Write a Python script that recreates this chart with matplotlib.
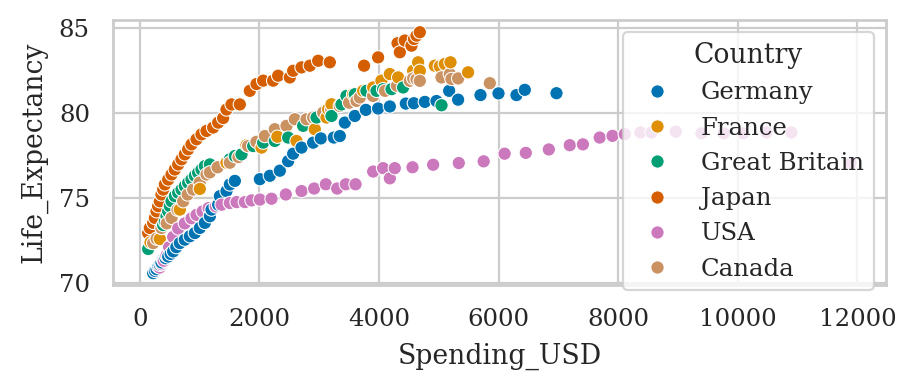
import matplotlib
matplotlib.use("Agg")
import matplotlib.pyplot as plt
import seaborn as sns
import pandas as pd

countries = ["Germany", "France", "Great Britain", "Japan", "USA", "Canada"]

germany_usd = [223, 252, 279, 307, 334, 362, 390, 430, 474, 515, 557, 610, 669, 752, 836,
               920, 1003, 1087, 1171, 1199, 1310, 1338, 1449, 1505, 1589, 2007, 2174, 2341,
               2480, 2564, 2704, 2898, 3027, 3244, 3344, 3428, 3595, 3779, 3985, 4181, 4448,
               4582, 4766, 4961, 5173, 5323, 5697, 5998, 6299, 6438, 6968]
germany_le = [70.57, 70.7, 70.8, 70.95, 71.06, 71.2, 71.36, 71.45, 71.55, 71.7, 71.85, 72.1,
              72.34, 72.54, 72.74, 72.93, 73.23, 73.53, 73.92, 74.31, 74.6, 75.1, 75.4, 75.79,
              76.0, 76.1, 76.3, 76.6, 77.16, 77.6, 77.96, 78.25, 78.5, 78.55, 78.64, 79.43,
              79.82, 80.18, 80.26, 80.38, 80.55, 80.57, 80.65, 80.7, 81.3, 80.78, 81.05, 81.15,
              81.05, 81.36, 81.16]

france_usd = [178, 334, 669, 1003, 1449, 1784, 2035, 2300, 2620, 2926, 3122, 3150, 3205,
              3567, 3735, 3902, 4040, 4181, 4320, 4571, 4654, 4682, 4933, 5017, 5100, 5195, 5490]
france_le = [72.38, 72.58, 74.31, 75.53, 77.07, 78.1, 77.96, 78.6, 78.35, 79.04, 79.73, 80.22,
             80.51, 81.1, 81.3, 81.5, 81.9, 82.29, 82.09, 82.48, 82.98, 82.48, 82.78, 82.74,
             82.88, 82.98, 82.39]

britain_usd = [139, 362, 390, 418, 446, 474, 502, 530, 585, 641, 697, 752, 808, 864, 920, 975,
               1031, 1087, 1171, 1505, 1589, 1700, 1895, 2062, 2257, 2480, 2731, 2955, 3205,
               3372, 3456, 3595, 3790, 3958, 4068, 4209, 4403, 5045]
britain_le = [71.99, 73.23, 73.4, 73.6, 73.92, 74.21, 74.51, 74.8, 75.1, 75.3, 75.49, 75.69,
              75.89, 76.08, 76.3, 76.48, 76.67, 76.87, 76.97, 77.27, 77.46, 77.56, 78.05,
              78.25, 78.35, 78.55, 79.24, 79.73, 79.82, 80.5, 81.0, 81.1, 81.3, 81.3, 81.4,
              81.4, 81.5, 80.45]

japan_usd = [139, 167, 223, 251, 279, 306, 334, 362, 390, 418, 474, 530, 585, 641, 697, 752,
             808, 864, 948, 1031, 1115, 1226, 1310, 1393, 1449, 1533, 1672, 1839, 1951, 2062,
             2229, 2313, 2508, 2564, 2704, 2843, 2982, 3177, 3750, 3985, 4310, 4348, 4431,
             4543, 4585, 4627, 4682]
japan_le = [72.93, 73.23, 73.53, 73.82, 74.21, 74.51, 74.8, 75.2, 75.49, 75.79, 76.08, 76.38,
            76.67, 76.97, 77.27, 77.56, 77.86, 78.15, 78.45, 78.74, 78.94, 79.14, 79.43, 79.7,
            80.2, 80.5, 80.5, 81.3, 81.7, 81.9, 81.9, 82.19, 82.09, 82.48, 82.68, 82.78,
            83.07, 82.98, 82.78, 83.27, 84.1, 83.57, 84.26, 83.96, 84.35, 84.55, 84.75]

usa_usd = [330, 360, 400, 446, 490, 557, 641, 752, 864, 948, 1050, 1150, 1270, 1366, 1505,
           1617, 1756, 1868, 2007, 2202, 2441, 2704, 2915, 3110, 3300, 3445, 3607, 3902, 4068,
           4181, 4264, 4560, 4905, 5334, 5750, 6100, 6455, 6840, 7190, 7410, 7690, 7905, 8110,
           8373, 8557, 8963, 9393, 9766, 10089, 10480, 10897, 11890]
usa_le = [70.9, 71.1, 71.3, 71.6, 72.1, 72.7, 73.2, 73.5, 73.8, 74.0, 74.2, 74.4, 74.5, 74.6,
          74.7, 74.75, 74.75, 74.85, 74.9, 74.95, 75.2, 75.4, 75.55, 75.8, 75.55, 75.8, 75.8,
          76.55, 76.75, 76.15, 76.75, 76.8, 76.95, 77.05, 77.15, 77.6, 77.65, 77.85, 78.1,
          78.15, 78.55, 78.65, 78.75, 78.85, 78.85, 78.9, 78.8, 78.8, 78.8, 78.85, 78.85, 77.05]

canada_usd = [223, 280, 362, 450, 530, 630, 725, 800, 892, 1000, 1115, 1171, 1300, 1505, 1650,
              1811, 1950, 2090, 2257, 2453, 2592, 2787, 2898, 3066, 3200, 3344, 3500, 3623,
              3679, 3900, 4100, 4300, 4515, 4571, 4627, 4682, 5045, 5184, 5212, 5323, 5853]
canada_le = [72.34, 72.6, 73.23, 73.5, 73.82, 74.3, 74.8, 75.2, 75.49, 75.9, 76.38, 76.5, 76.8,
             77.07, 77.4, 78.05, 78.3, 78.64, 79.04, 79.24, 79.63, 79.63, 79.73, 80.02, 80.2,
             80.41, 80.6, 80.71, 80.91, 81.0, 81.3, 81.6, 81.89, 82.03, 81.99, 81.89, 82.09,
             82.29, 82.0, 82.03, 81.75]

series = {
    "Germany": (germany_usd, germany_le),
    "France": (france_usd, france_le),
    "Great Britain": (britain_usd, britain_le),
    "Japan": (japan_usd, japan_le),
    "USA": (usa_usd, usa_le),
    "Canada": (canada_usd, canada_le),
}

rows = []
for c in countries:
    xs, ys = series[c]
    for xv, yv in zip(xs, ys):
        rows.append((c, xv, yv))
df = pd.DataFrame(rows, columns=["Country", "Spending_USD", "Life_Expectancy"])
# rough stand-in for year order so the countries interleave like the original
df = df.sort_values("Spending_USD", kind="stable")

sns.set_theme(context="paper", style="whitegrid", font="serif", palette="colorblind")

fig, ax = plt.subplots(figsize=(4.595, 1.94), dpi=200)
sns.scatterplot(data=df, x="Spending_USD", y="Life_Expectancy", hue="Country",
                hue_order=countries, ax=ax)
ax.set_yticks([70, 75, 80, 85])
ax.set_xticks(range(0, 12001, 2000))
ax.legend(title="Country", loc="upper right")

fig.subplots_adjust(left=0.123, right=0.964, bottom=0.265, top=0.948)
fig.savefig("out.png", dpi=200)
